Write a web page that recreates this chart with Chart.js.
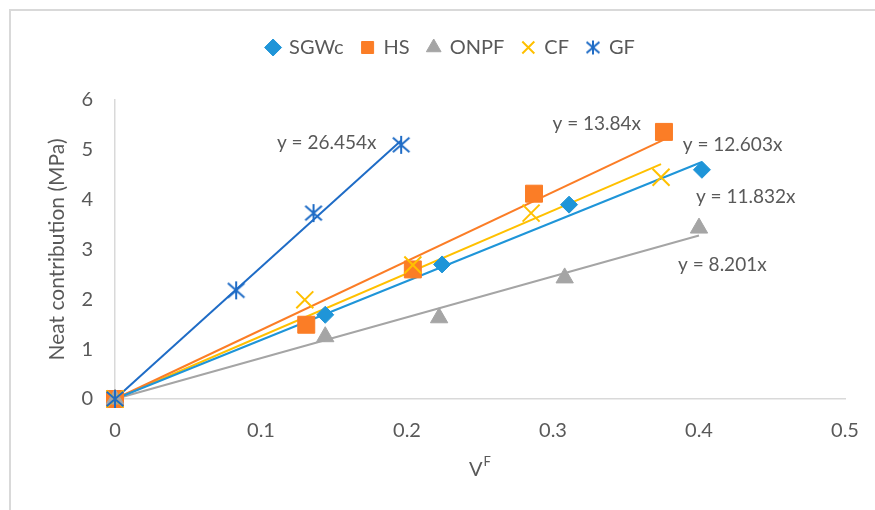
<!DOCTYPE html>
<html><head><meta charset="utf-8">
<script src="https://cdn.jsdelivr.net/npm/chart.js@4"></script>
<style>
html,body{margin:0;padding:0;background:#fff;overflow:hidden;width:875px;height:510px;}
#frame{position:absolute;left:9px;top:9px;width:1000px;height:1000px;border-left:2px solid #D9D9D9;border-top:2px solid #D9D9D9;}
#wrap{position:absolute;left:9px;top:10px;width:884px;height:500px;}
</style></head><body>
<div id="frame"></div>
<div id="wrap"><canvas id="c" width="884" height="500" style="width:884px;height:500px"></canvas></div>
<script>
// ---- data ----
const seriesNames = ['SGWc', 'HS', 'ONPF', 'CF', 'GF'];
const sgwcX = [0, 0.144, 0.224, 0.311, 0.402];
const sgwcY = [0, 1.69, 2.70, 3.90, 4.60];
const hsX = [0, 0.131, 0.204, 0.287, 0.376];
const hsY = [0, 1.49, 2.60, 4.12, 5.36];
const onpfX = [0, 0.144, 0.222, 0.308, 0.400];
const onpfY = [0, 1.25, 1.63, 2.43, 3.43];
const cfX = [0, 0.130, 0.204, 0.285, 0.374];
const cfY = [0, 1.99, 2.69, 3.73, 4.45];
const gfX = [0, 0.083, 0.136, 0.196];
const gfY = [0, 2.18, 3.73, 5.10];
const slopes = [11.832, 13.84, 8.201, 12.603, 26.454];
const equationLabels = ['y = 11.832x', 'y = 13.84x', 'y = 8.201x', 'y = 12.603x', 'y = 26.454x'];
const xTickLabels = ['0', '0.1', '0.2', '0.3', '0.4', '0.5'];
const yTickLabels = ['0', '1', '2', '3', '4', '5', '6'];

// ---- layout / style ----
const labelAnchors = [[0.432, 4.06], [0.330, 5.52], [0.416, 2.69], [0.423, 5.10], [0.145, 5.145]];
const colors = ['#1F95D8', '#FB7D26', '#A5A5A5', '#FFC000', '#1F6CC6'];
const TXT = '#595959';
const FONT = 'Lato';

function makeStar(size, color, lw) {
  const c = document.createElement('canvas');
  c.width = size; c.height = size;
  const g = c.getContext('2d');
  const m = size / 2, h = size / 2 - 1;
  g.strokeStyle = color; g.lineWidth = lw; g.lineCap = 'butt';
  g.beginPath();
  g.moveTo(m, m - h); g.lineTo(m, m + h);
  g.moveTo(m - h * 0.92, m - h * 0.8); g.lineTo(m + h * 0.92, m + h * 0.8);
  g.moveTo(m - h * 0.92, m + h * 0.8); g.lineTo(m + h * 0.92, m - h * 0.8);
  g.stroke();
  return c;
}
const starBig = makeStar(20, colors[4], 2);
const starSmall = makeStar(16, colors[4], 2);

const xs = [sgwcX, hsX, onpfX, cfX, gfX];
const ys = [sgwcY, hsY, onpfY, cfY, gfY];
const styles = [
  {pointStyle: 'rectRot', pointRadius: 8.5, borderWidth: 1},
  {pointStyle: 'rect', pointRadius: 12, borderWidth: 1},
  {pointStyle: 'triangle', pointRadius: 10, borderWidth: 1},
  {pointStyle: 'crossRot', pointRadius: 12, borderWidth: 2},
  {pointStyle: starBig, pointRadius: 10, borderWidth: 2}
];

const datasets = [];
seriesNames.forEach((name, i) => {
  datasets.push(Object.assign({
    label: name,
    data: xs[i].map((x, k) => ({x: x, y: ys[i][k]})),
    backgroundColor: colors[i],
    borderColor: colors[i],
    showLine: false,
    clip: false,
    order: 5 - i
  }, styles[i]));
});
seriesNames.forEach((name, i) => {
  const xm = Math.max.apply(null, xs[i]);
  datasets.push({
    type: 'line',
    label: name + ' trend',
    data: [{x: 0, y: 0}, {x: xm, y: slopes[i] * xm}],
    borderColor: colors[i],
    backgroundColor: colors[i],
    borderWidth: 2,
    pointRadius: 0,
    fill: false,
    clip: false,
    order: 10
  });
});

const annot = {
  id: 'annot',
  afterDatasetsDraw(chart) {
    const ctx = chart.ctx, x = chart.scales.x, y = chart.scales.y, ca = chart.chartArea;
    ctx.save();
    ctx.font = '19px ' + FONT; ctx.fillStyle = TXT;
    ctx.textAlign = 'center'; ctx.textBaseline = 'middle';
    equationLabels.forEach((t, i) => {
      ctx.fillText(t, x.getPixelForValue(labelAnchors[i][0]), y.getPixelForValue(labelAnchors[i][1]));
    });
    const cx = (ca.left + ca.right) / 2;
    ctx.font = '20px ' + FONT; const wV = ctx.measureText('V').width;
    ctx.font = '13px ' + FONT; const wF = ctx.measureText('F').width;
    const x0 = cx - (wV + 1 + wF) / 2;
    ctx.textAlign = 'left'; ctx.textBaseline = 'alphabetic';
    ctx.font = '20px ' + FONT; ctx.fillText('V', x0, ca.bottom + 77);
    ctx.font = '13px ' + FONT; ctx.fillText('F', x0 + wV + 1, ca.bottom + 67);
    ctx.restore();
  }
};

new Chart(document.getElementById('c'), {
  type: 'scatter',
  data: {datasets: datasets},
  options: {
    responsive: false,
    animation: false,
    events: [],
    layout: {padding: {top: 9.5, left: 0, right: 0, bottom: 0}},
    plugins: {
      legend: {
        position: 'top',
        labels: {
          usePointStyle: true, boxWidth: 12, boxHeight: 12, padding: 18,
          color: TXT, font: {family: FONT, size: 20},
          filter: it => it.datasetIndex < 5,
          sort: (a, b) => a.datasetIndex - b.datasetIndex,
          generateLabels(chart) {
            const items = Chart.defaults.plugins.legend.labels.generateLabels(chart);
            items.forEach(it => { if (it.pointStyle === starBig) it.pointStyle = starSmall; });
            return items;
          }
        }
      },
      title: {display: true, text: ' ', weight: 500, font: {size: 10, lineHeight: 1}, padding: {top: 0, bottom: 22.5}},
      tooltip: {enabled: false}
    },
    scales: {
      x: {
        type: 'linear', min: 0, max: 0.5,
        grid: {display: false, drawTicks: false},
        border: {display: true, color: '#D9D9D9', width: 1.5},
        ticks: {stepSize: 0.1, padding: 20, color: TXT, font: {family: FONT, size: 20},
          callback: (v, i) => xTickLabels[i]},
        afterFit(s) { s.height = 111; }
      },
      y: {
        type: 'linear', min: 0, max: 6,
        grid: {display: false, drawTicks: false},
        border: {display: true, color: '#D9D9D9', width: 1.5},
        ticks: {stepSize: 1, padding: 22, color: TXT, font: {family: FONT, size: 20},
          callback: (v, i) => yTickLabels[i]},
        title: {display: true, text: 'Neat contribution (MPa)', color: TXT, font: {family: FONT, size: 21}, padding: {top: 36, bottom: 0}},
        afterFit(s) { s.width = 106; }
      },
      yR: {
        type: 'linear', position: 'right', display: true,
        grid: {display: false, drawTicks: false}, border: {display: false},
        ticks: {display: false},
        afterFit(s) { s.width = 48; }
      }
    }
  },
  plugins: [annot]
});
</script>
</body></html>
